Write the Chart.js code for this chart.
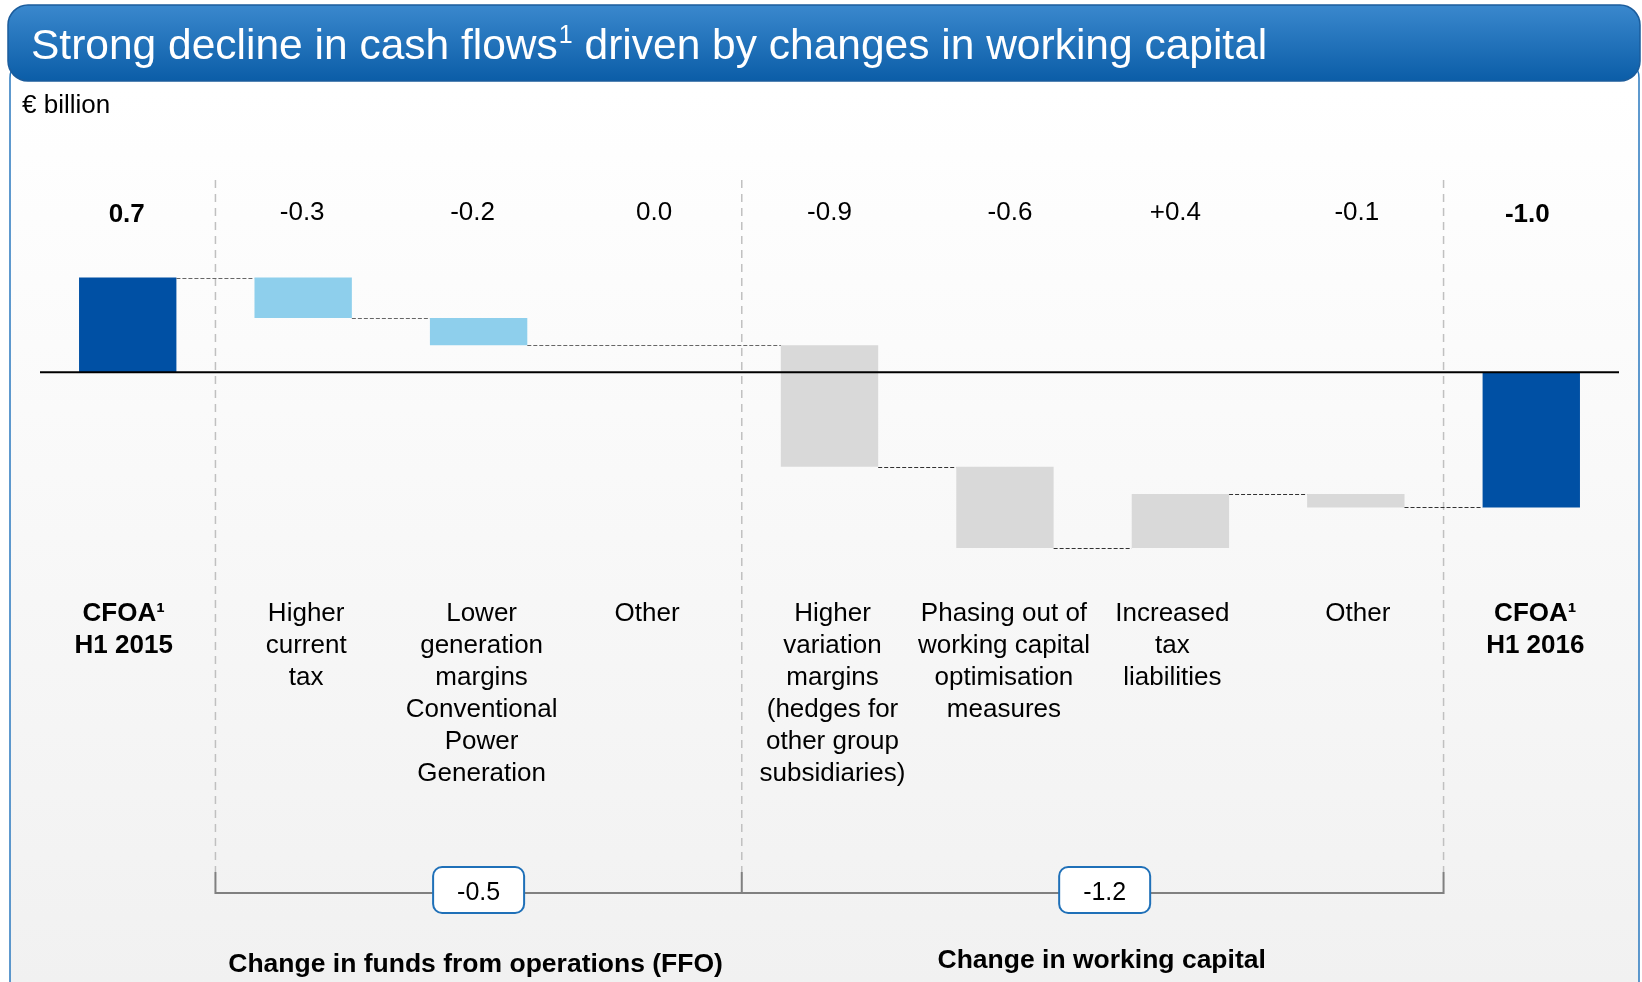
<!DOCTYPE html>
<html>
<head>
<meta charset="utf-8">
<script src="https://cdn.jsdelivr.net/npm/chart.js@4"></script>
<style>
  html, body { margin: 0; padding: 0; background: #fff; }
  canvas { display: block; }
</style>
</head>
<body>
<canvas id="myChart" width="1642" height="982"></canvas>
<script>
const titulo = ['Strong decline in cash flows', '1', ' driven by changes in working capital'];
const unidade = '€ billion';

const categorias = [
  ['CFOA¹', 'H1 2015'],
  ['Higher', 'current', 'tax'],
  ['Lower', 'generation', 'margins', 'Conventional', 'Power', 'Generation'],
  ['Other'],
  ['Higher', 'variation', 'margins', '(hedges for', 'other group', 'subsidiaries)'],
  ['Phasing out of', 'working capital', 'optimisation', 'measures'],
  ['Increased', 'tax', 'liabilities'],
  ['Other'],
  ['CFOA¹', 'H1 2016']
];
const valores = [0.7, -0.3, -0.2, 0.0, -0.9, -0.6, 0.4, -0.1, -1.0];
const textoValores = ['0.7', '-0.3', '-0.2', '0.0', '-0.9', '-0.6', '+0.4', '-0.1', '-1.0'];
const totais = [true, false, false, false, false, false, false, false, true];

const grupos = ['Change in funds from operations (FFO)', 'Change in working capital'];
const valoresGrupos = ['-0.5', '-1.2'];
const inicioGrupos = [1, 4, 8]; // categoria onde cada grupo começa / termina

const cores = ['#0050a4', '#8ecfec', '#8ecfec', '#8ecfec', '#d9d9d9', '#d9d9d9', '#d9d9d9', '#d9d9d9', '#0050a4'];

// barras flutuantes da cascata
let acumulado = 0;
const faixas = valores.map((v, i) => {
  if (totais[i]) {
    acumulado = v;
    return [0, v];
  }
  const inicio = acumulado;
  acumulado = Math.round((acumulado + v) * 10) / 10;
  return [inicio, acumulado];
});

const fonte = "'Liberation Sans', Arial, sans-serif";
// pequenos deslocamentos horizontais dos textos (px)
const ajusteValor = [-1, -1, -6, 0, 0, 5, -5, 1, -4];
const ajusteCategoria = [-4, 3, 3, -7, 3, -1, -8, 2, 4];

const desenho = {
  id: 'desenho',
  beforeDraw(chart) {
    const ctx = chart.ctx;
    const x = chart.scales.x;
    ctx.save();

    // painel com gradiente
    const grad = ctx.createLinearGradient(0, 90, 0, 982);
    grad.addColorStop(0, '#ffffff');
    grad.addColorStop(1, '#f1f1f1');
    ctx.beginPath();
    ctx.roundRect(10, 56, 1629, 960, 22);
    ctx.fillStyle = grad;
    ctx.fill();
    ctx.lineWidth = 1.5;
    ctx.strokeStyle = '#2a78bf';
    ctx.stroke();

    // barra do título
    const gt = ctx.createLinearGradient(0, 5, 0, 81);
    gt.addColorStop(0, '#3a88cd');
    gt.addColorStop(1, '#0b5da7');
    ctx.beginPath();
    ctx.roundRect(8, 5, 1632, 76, 20);
    ctx.fillStyle = gt;
    ctx.fill();
    ctx.lineWidth = 1.5;
    ctx.strokeStyle = '#1b5c9c';
    ctx.stroke();

    ctx.fillStyle = '#ffffff';
    ctx.textBaseline = 'alphabetic';
    ctx.textAlign = 'left';
    let tx = 31;
    ctx.font = '42.5px ' + fonte;
    ctx.fillText(titulo[0], tx, 59);
    tx += ctx.measureText(titulo[0]).width + 1;
    ctx.font = '25px ' + fonte;
    ctx.fillText(titulo[1], tx, 43);
    tx += ctx.measureText(titulo[1]).width;
    ctx.font = '42.5px ' + fonte;
    ctx.fillText(titulo[2], tx, 59);

    ctx.fillStyle = '#000';
    ctx.font = '26px ' + fonte;
    ctx.textBaseline = 'middle';
    ctx.fillText(unidade, 22, 106);

    // separadores tracejados
    const seps = inicioGrupos.map(i => (x.getPixelForValue(i - 1) + x.getPixelForValue(i)) / 2);
    ctx.strokeStyle = '#c0c0c0';
    ctx.lineWidth = 1.5;
    ctx.setLineDash([8, 6]);
    seps.forEach(sx => {
      ctx.beginPath();
      ctx.moveTo(sx, 180);
      ctx.lineTo(sx, 872);
      ctx.stroke();
    });
    ctx.restore();
  },
  afterDatasetsDraw(chart) {
    const ctx = chart.ctx;
    const x = chart.scales.x;
    const y = chart.scales.y;
    const area = chart.chartArea;
    const barras = chart.getDatasetMeta(0).data;
    ctx.save();

    // linhas de ligação
    const visiveis = barras.map((b, i) => i).filter(i => faixas[i][0] !== faixas[i][1]);
    ctx.lineWidth = 1.2;
    ctx.setLineDash([4, 2]);
    for (let k = 0; k < visiveis.length - 1; k++) {
      const a = barras[visiveis[k]];
      const b = barras[visiveis[k + 1]];
      const ly = Math.round(y.getPixelForValue(faixas[visiveis[k]][1])) + 0.5;
      ctx.strokeStyle = visiveis[k] < 3 ? '#666' : '#333';
      ctx.beginPath();
      ctx.moveTo(a.x + a.width / 2, ly);
      ctx.lineTo(b.x - b.width / 2, ly);
      ctx.stroke();
    }
    ctx.setLineDash([]);

    // eixo zero
    const y0 = y.getPixelForValue(0);
    ctx.strokeStyle = '#000';
    ctx.lineWidth = 2;
    ctx.beginPath();
    ctx.moveTo(area.left, y0);
    ctx.lineTo(area.right, y0);
    ctx.stroke();

    // valores e categorias
    ctx.fillStyle = '#000';
    ctx.textAlign = 'center';
    ctx.textBaseline = 'middle';
    valores.forEach((v, i) => {
      const cx = x.getPixelForValue(i);
      ctx.font = (totais[i] ? 'bold ' : '') + '26px ' + fonte;
      ctx.fillText(textoValores[i], cx + ajusteValor[i], totais[i] ? 215 : 213);
      categorias[i].forEach((linha, j) => {
        ctx.fillText(linha, cx + ajusteCategoria[i], 614 + j * 32);
      });
    });

    // chaves dos grupos
    const seps = inicioGrupos.map(i => (x.getPixelForValue(i - 1) + x.getPixelForValue(i)) / 2);
    ctx.strokeStyle = '#808080';
    ctx.lineWidth = 2;
    ctx.beginPath();
    seps.forEach(sx => {
      ctx.moveTo(sx, 872);
      ctx.lineTo(sx, 894);
    });
    ctx.moveTo(seps[0], 893);
    ctx.lineTo(seps[seps.length - 1], 893);
    ctx.stroke();

    const ajuste = [0, 12];
    const yGrupo = [965, 961];
    grupos.forEach((g, k) => {
      const cx = (seps[k] + seps[k + 1]) / 2 + ajuste[k];
      ctx.beginPath();
      ctx.roundRect(cx - 45.5, 867, 91, 46, 9);
      ctx.fillStyle = '#fff';
      ctx.fill();
      ctx.strokeStyle = '#1f70b8';
      ctx.lineWidth = 2;
      ctx.stroke();
      ctx.fillStyle = '#000';
      ctx.font = '25px ' + fonte;
      ctx.fillText(valoresGrupos[k], cx, 893);
      ctx.font = 'bold 26.5px ' + fonte;
      ctx.fillText(g, cx - 3, yGrupo[k]);
    });
    ctx.restore();
  }
};

const ctx = document.getElementById('myChart').getContext('2d');
const myChart = new Chart(ctx, {
  type: 'bar',
  data: {
    labels: categorias.map(c => c.join(' ')),
    datasets: [{
      data: faixas,
      backgroundColor: cores,
      borderWidth: 0,
      barPercentage: 0.555,
      categoryPercentage: 1
    }]
  },
  options: {
    responsive: false,
    animation: false,
    devicePixelRatio: 1,
    layout: { padding: { top: 237, bottom: 407, left: 40, right: 23 } },
    plugins: { legend: { display: false }, tooltip: { enabled: false } },
    scales: {
      x: { display: false },
      y: { display: false, min: -1.5, max: 1.0 }
    }
  },
  plugins: [desenho]
});
</script>
</body>
</html>
